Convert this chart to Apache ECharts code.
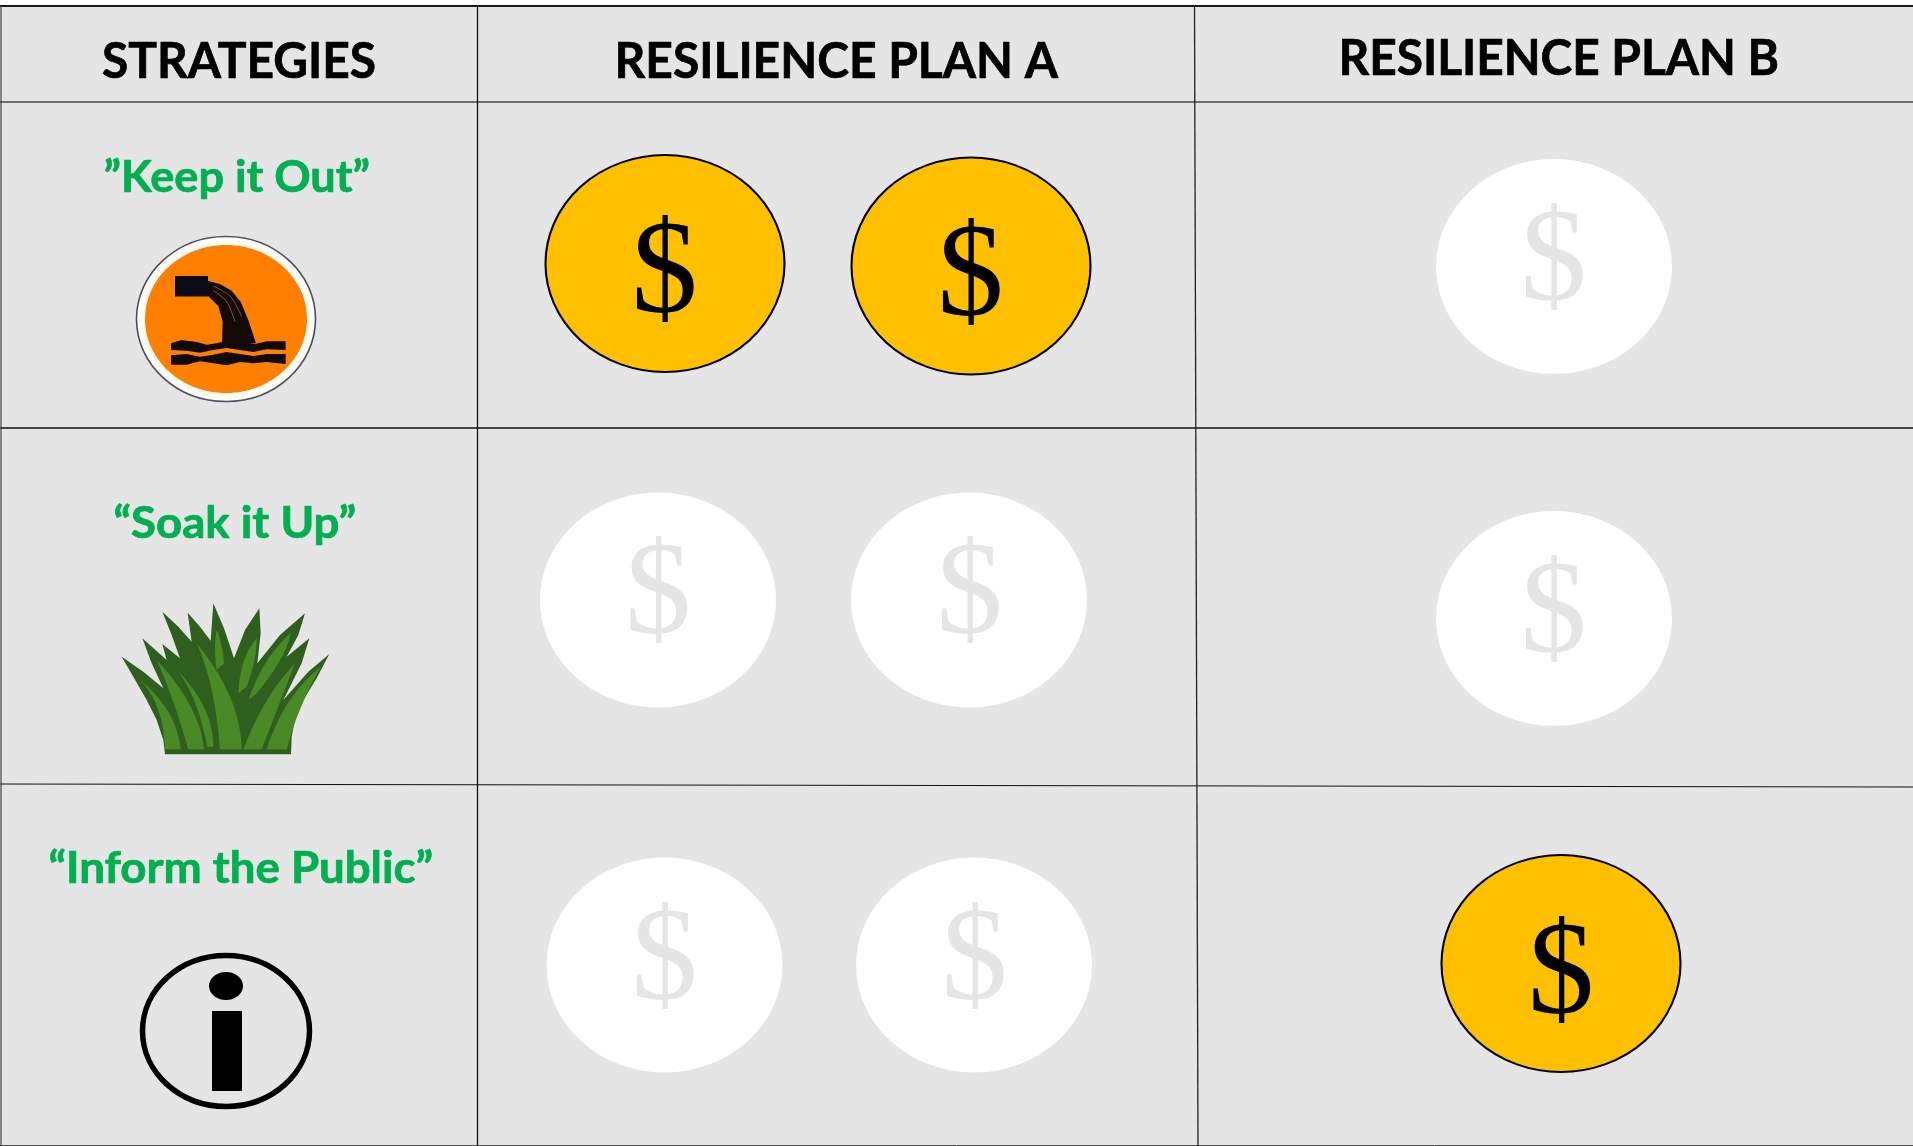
<!DOCTYPE html>
<html>
<head>
<meta charset="utf-8">
<style>html,body{margin:0;padding:0;background:#fff}#c{width:1913px;height:1146px}</style>
<script src="https://cdn.jsdelivr.net/npm/echarts@6/dist/echarts.min.js"></script>
</head>
<body>
<div id="c"></div>
<script>
// ---- content ----
const columnTitles = ['STRATEGIES', 'RESILIENCE PLAN A', 'RESILIENCE PLAN B'];
const strategies = ['\u201DKeep it Out\u201D', '\u201CSoak it Up\u201D', '\u201CInform the Public\u201D'];
// coins funded per strategy
const planAFunded = [2, 0, 0];
const planBFunded = [0, 0, 1];
const planACoinSlots = [2, 2, 2];
const planBCoinSlots = [1, 1, 1];

// ---- layout (table units = page pixels) ----
const PLAN_A_X = [[665, 971], [658, 969], [664.5, 974]];
const PLAN_A_Y = [[263.5, 266], [600, 600], [965, 965]];
const PLAN_A_GLYPH = [[[0, 4], [0, 4]], [[0.5, -11.5], [1, -11.5]], [[0.5, -11], [1, -11]]];
const PLAN_B_X = [1554, 1554, 1561];
const PLAN_B_Y = [266.5, 618.5, 963.5];
const PLAN_B_GLYPH = [[0, -11.5], [0, -11], [0.5, 5]];

const BG = '#e5e5e5', GOLD = '#ffc000', GREEN = '#00b050';
const GLYPH_NUDGE_Y = 10;

function coinItems(funded) {
  const out = [];
  const push = (x, y, g, isF) => {
    if (isF !== funded) return;
    out.push({
      value: [x, y],
      label: { offset: [g[0] - 0.5, g[1] + GLYPH_NUDGE_Y] },
      symbolSize: isF ? [239, 217] : [236, 215]
    });
  };
  strategies.forEach((s, r) => {
    for (let i = 0; i < planACoinSlots[r]; i++)
      push(PLAN_A_X[r][i], PLAN_A_Y[r][i], PLAN_A_GLYPH[r][i], i < planAFunded[r]);
    for (let i = 0; i < planBCoinSlots[r]; i++)
      push(PLAN_B_X[r], PLAN_B_Y[r], PLAN_B_GLYPH[r], i < planBFunded[r]);
  });
  return out;
}

// ---- helpers for decoration ----
const meas = document.createElement('canvas').getContext('2d');
function fitText(str, font, left, right, midY, fill) {
  meas.font = font;
  const w = meas.measureText(str).width;
  return {
    type: 'text', x: (left + right) / 2, y: midY, scaleX: (right - left) / w, scaleY: 1,
    style: { text: str, font: font, fill: fill, stroke: fill, lineWidth: 0.7, align: 'center', verticalAlign: 'middle', x: 0, y: 0 }
  };
}
function line(x1, y1, x2, y2, color, w) {
  return { type: 'line', shape: { x1, y1, x2, y2 }, style: { stroke: color, lineWidth: w } };
}
const q = (a, c, b, t) => [
  (1 - t) * (1 - t) * a[0] + 2 * (1 - t) * t * c[0] + t * t * b[0],
  (1 - t) * (1 - t) * a[1] + 2 * (1 - t) * t * c[1] + t * t * b[1]
];
const STEPS = [0, .1, .2, .3, .4, .5, .6, .7, .8, .9, 1];
const zg = p => [p[0] / 3, 430 + p[1] / 3];
function leaf(tip, bl, br, cl, cr) {
  const T = zg(tip), BL = zg(bl), BR = zg(br), CL = zg(cl), CR = zg(cr);
  const L = s => q(BL, CL, T, s), R = s => q(BR, CR, T, s);
  return { type: 'polygon', shape: { points: STEPS.map(L).concat(STEPS.slice().reverse().map(R)) }, style: { fill: '#4a8a26' } };
}
const grassOutline = [[495, 973], [490, 930], [470, 870], [440, 810], [400, 740], [365, 680], [430, 725], [490, 775], [455, 700], [427, 625], [500, 690], [487, 642], [540, 685], [515, 615], [487, 545], [535, 590], [575, 635], [563, 548], [600, 590], [632, 632], [640, 520], [672, 595], [702, 685], [735, 600], [778, 535], [782, 610], [772, 700], [840, 615], [915, 550], [895, 615], [860, 680], [928, 625], [905, 700], [850, 810], [925, 725], [988, 672], [950, 745], [910, 810], [885, 870], [875, 920], [873, 973]];
const grassLeaves = [
  [[420, 750], [495, 958], [542, 958], [490, 820], [530, 840]],
  [[470, 690], [565, 958], [612, 958], [520, 800], [600, 830]],
  [[530, 720], [622, 950], [640, 950], [590, 790], [640, 830]],
  [[590, 640], [660, 958], [725, 958], [645, 760], [722, 800]],
  [[650, 600], [650, 720], [672, 700], [640, 650], [670, 650]],
  [[770, 625], [715, 790], [740, 770], [720, 680], [770, 690]],
  [[872, 610], [745, 810], [770, 790], [790, 680], [860, 680]],
  [[885, 700], [730, 958], [785, 958], [790, 800], [850, 790]],
  [[962, 710], [800, 958], [860, 958], [850, 800], [890, 840]]
];
const z1 = pts => pts.map(p => [p[0] / 3, p[1] / 3]);

const drainIcon = [
  { type: 'ellipse', shape: { cx: 226, cy: 319, rx: 89.5, ry: 82.5 }, style: { fill: '#fffdf5', stroke: '#4a5060', lineWidth: 1.6 } },
  { type: 'ellipse', shape: { cx: 226, cy: 319, rx: 81, ry: 74 }, style: { fill: '#ff8000' } },
  { type: 'rect', shape: { x: 175, y: 276, width: 33, height: 20.5 }, style: { fill: '#0b0b18' } },
  { type: 'polygon', shape: { points: z1([[622, 842], [660, 852], [695, 872], [722, 905], [745, 960], [768, 1030], [666, 1030], [668, 965], [655, 918], [622, 886]]) }, style: { fill: '#120a08' } },
  { type: 'polyline', shape: { smooth: 0.3, points: z1([[640, 858], [692, 890], [725, 950]]) }, style: { stroke: '#a05a10', lineWidth: 0.9, fill: null } },
  { type: 'polyline', shape: { smooth: 0.3, points: z1([[640, 872], [680, 905], [705, 965]]) }, style: { stroke: '#a05a10', lineWidth: 0.9, fill: null } },
  { type: 'polygon', shape: { points: z1([[513, 1030], [545, 1020], [590, 1026], [620, 1034], [650, 1030], [690, 1020], [730, 1026], [765, 1032], [800, 1024], [857, 1024], [857, 1050], [800, 1048], [760, 1056], [720, 1050], [680, 1044], [640, 1050], [600, 1058], [560, 1052], [513, 1050]]) }, style: { fill: '#120a08' } },
  { type: 'polygon', shape: { points: z1([[513, 1066], [560, 1062], [600, 1070], [640, 1064], [680, 1056], [720, 1062], [760, 1068], [800, 1062], [857, 1062], [857, 1092], [800, 1086], [760, 1090], [720, 1086], [680, 1096], [640, 1090], [600, 1084], [560, 1094], [513, 1094]]) }, style: { fill: '#120a08' } }
];
const infoIcon = [
  { type: 'ellipse', shape: { cx: 226, cy: 1031, rx: 83.5, ry: 75.5 }, style: { fill: 'transparent', stroke: '#000', lineWidth: 5.5 } },
  { type: 'ellipse', shape: { cx: 226, cy: 986, rx: 17, ry: 14 }, style: { fill: '#000' } },
  { type: 'rect', shape: { x: 212, y: 1011, width: 30, height: 80 }, style: { fill: '#000' } }
];
const tableShapes = [
  { type: 'rect', shape: { x: 0, y: 6, width: 1913, height: 1140 }, style: { fill: BG } },
  line(0, 6, 1913, 6, '#1a1a1a', 2),
  line(0, 102, 1913, 102, '#444', 1.6),
  line(0, 428, 1913, 428, '#444', 1.8),
  line(0, 784, 1913, 787, '#111', 1.2),
  line(0, 1145.5, 1913, 1145.5, '#555', 1),
  line(1, 6, 1, 1146, '#444', 1.2),
  line(477.5, 6, 477.5, 1146, '#111', 1.3),
  line(1194.5, 6, 1198, 1146, '#222', 1.3)
];
const HEAD = 'bold 50px Lato', SUB = 'bold 43px Lato';
const texts = [
  fitText(columnTitles[0], HEAD, 102, 376, 62, '#000'),
  fitText(columnTitles[1], HEAD, 614.5, 1058, 62, '#000'),
  fitText(columnTitles[2], HEAD, 1338.5, 1779, 59, '#000'),
  fitText(strategies[0], SUB, 103.5, 370, 178.5, GREEN),
  fitText(strategies[1], SUB, 113.5, 356, 524.5, GREEN),
  fitText(strategies[2], SUB, 48.5, 433, 869.5, GREEN)
];
const coinLabel = color => ({
  show: true, position: 'inside', formatter: '$',
  fontFamily: 'Liberation Serif', fontSize: 133, color: color,
  align: 'center', verticalAlign: 'middle'
});

const chart = echarts.init(document.getElementById('c'), null, { renderer: 'canvas' });
chart.setOption({
  animation: false,
  backgroundColor: '#fff',
  grid: { left: 0, right: 0, top: 0, bottom: 0 },
  xAxis: { type: 'value', min: 0, max: 1913, show: false },
  yAxis: { type: 'value', min: 0, max: 1146, inverse: true, show: false },
  graphic: { elements: [].concat(
    tableShapes, texts, drainIcon,
    [{ type: 'polygon', shape: { points: grassOutline.map(zg) }, style: { fill: '#2f5f1e' } }],
    grassLeaves.map(b => leaf(b[0], b[1], b[2], b[3], b[4])),
    infoIcon
  ) },
  series: [
    {
      name: 'Funded', type: 'scatter', symbol: 'circle', clip: false, silent: true,
      itemStyle: { color: GOLD, borderColor: '#000', borderWidth: 2, opacity: 1 },
      label: coinLabel('#000'), data: coinItems(true)
    },
    {
      name: 'Not funded', type: 'scatter', symbol: 'circle', clip: false, silent: true,
      itemStyle: { color: '#fff', opacity: 1 },
      label: coinLabel(BG), data: coinItems(false)
    }
  ]
});
</script>
</body>
</html>
